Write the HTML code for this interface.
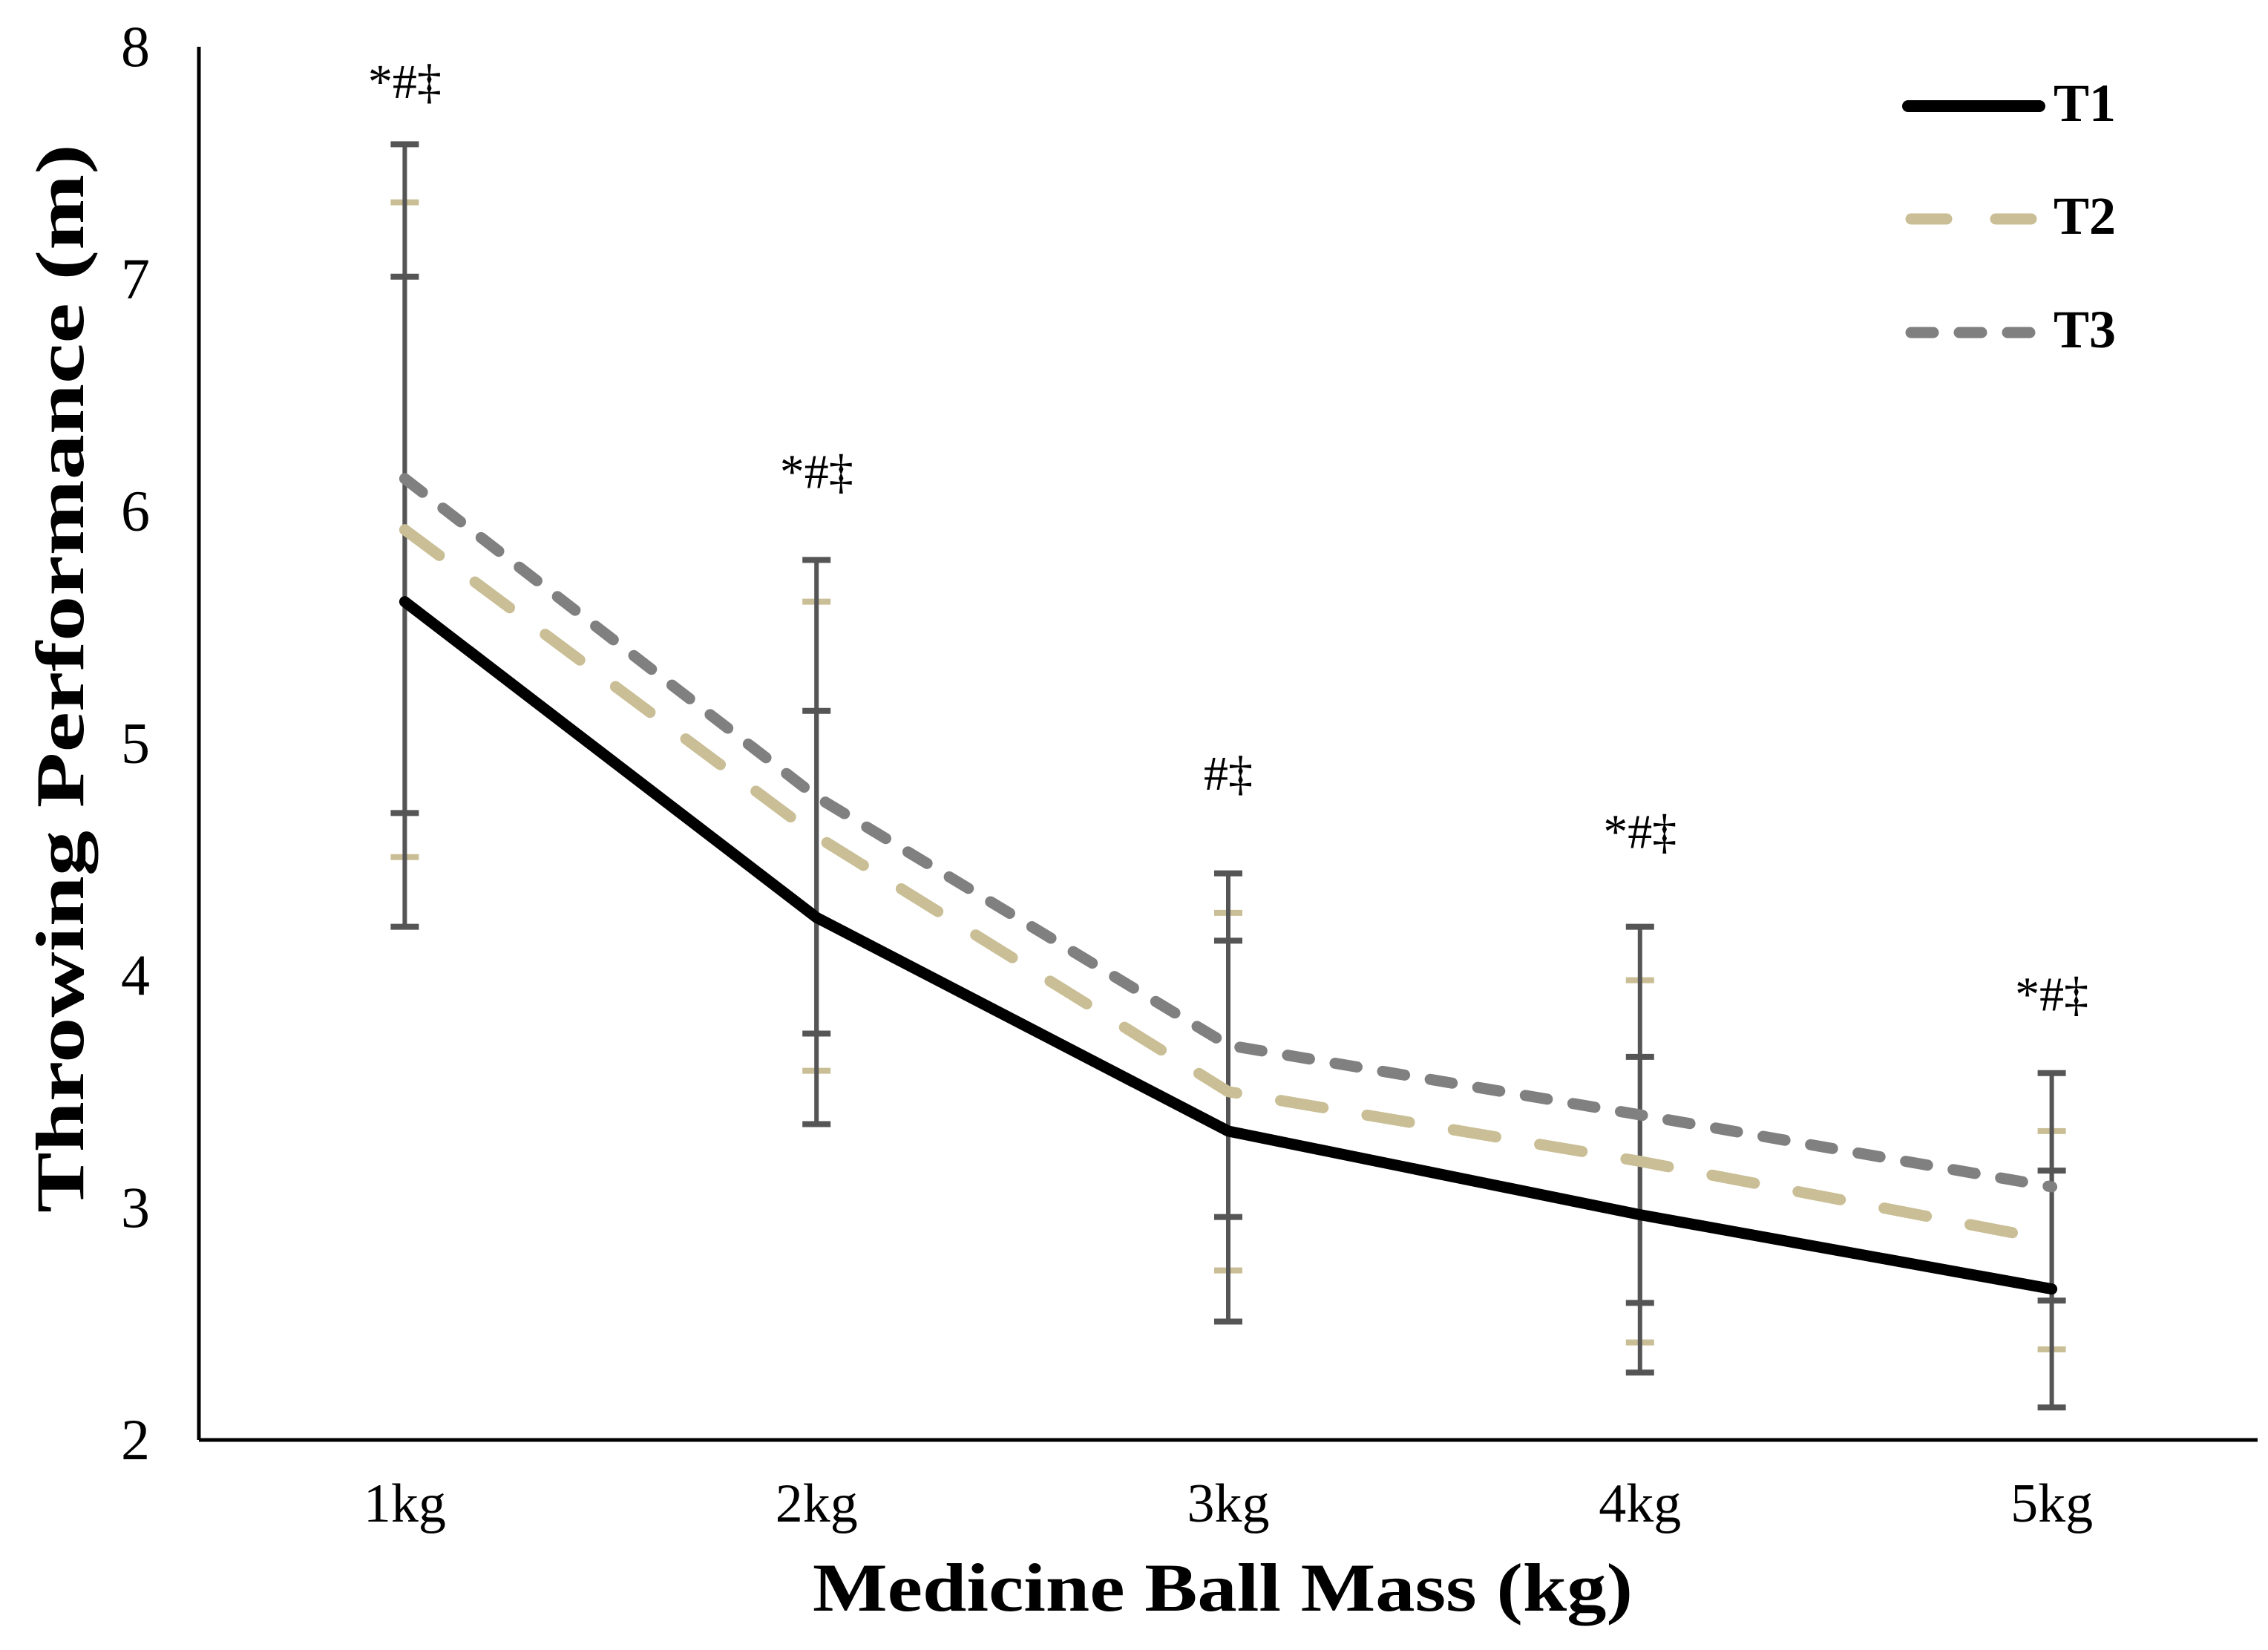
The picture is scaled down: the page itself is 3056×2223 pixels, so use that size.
<!DOCTYPE html>
<html><head><meta charset="utf-8"><style>
html,body{margin:0;padding:0;background:#fff;}
svg{display:block;font-family:"Liberation Serif",serif;}
</style></head><body>
<svg id="chart" width="3056" height="2223" viewBox="0 0 3056 2223" xmlns="http://www.w3.org/2000/svg">
<g id="axes"></g><g id="errs"></g><g id="lines"></g><g id="annot"></g>
<g id="legend">
 <line x1="2571" y1="143" x2="2748" y2="143" stroke="#000" stroke-width="16" stroke-linecap="round"/>
 <text x="2767" y="163" font-size="72" font-weight="bold">T1</text>
 <line x1="2575" y1="295" x2="2745" y2="295" stroke="#C9BE95" stroke-width="15" stroke-linecap="round" stroke-dasharray="48 66"/>
 <text x="2767" y="315" font-size="72" font-weight="bold">T2</text>
 <line x1="2575" y1="448" x2="2745" y2="448" stroke="#808080" stroke-width="15" stroke-linecap="round" stroke-dasharray="30 35"/>
 <text x="2767" y="468" font-size="72" font-weight="bold">T3</text>
</g>
<text x="1095" y="2170" font-size="92" font-weight="bold" textLength="1105" lengthAdjust="spacingAndGlyphs">Medicine Ball Mass (kg)</text>
<text x="-1634" y="112" transform="rotate(-90)" font-size="92" font-weight="bold" textLength="1440" lengthAdjust="spacingAndGlyphs">Throwing Performance (m)</text>
</svg>
<script>
const categories=["1kg","2kg","3kg","4kg","5kg"];
const t1Mean=[5.61,4.25,3.33,2.97,2.65];
const t2Mean=[5.92,4.60,3.50,3.20,2.86];
const t3Mean=[6.14,4.77,3.70,3.40,3.09];
const t1SD=[1.40,0.89,0.82,0.68,0.51];
const t2SD=[1.41,1.01,0.77,0.78,0.47];
const t3SD=[1.44,1.02,0.74,0.81,0.49];
const yTicks=[2,3,4,5,6,7,8];
const annotations=["*#‡","*#‡","#‡","*#‡","*#‡"];
const annotValues=[7.78,6.10,4.80,4.55,3.85];

const NS="http://www.w3.org/2000/svg";
const X0=268,X1=3042,Y0=1940,Y1=63,YMIN=2,YMAX=8;
const band=(X1-X0)/categories.length;
const xs=i=>X0+band*(i+0.5);
const ys=v=>Y0-(v-YMIN)/(YMAX-YMIN)*(Y0-Y1);
function mk(tag,attrs,parent){const e=document.createElementNS(NS,tag);for(const k in attrs)e.setAttribute(k,attrs[k]);parent.appendChild(e);return e;}
const axes=document.getElementById('axes');
let a=mk('line',{x1:X0,y1:Y1,x2:X0,y2:Y0,stroke:'#000','stroke-width':5},axes);


a=mk('line',{x1:X0,y1:Y0,x2:X1,y2:Y0,stroke:'#000','stroke-width':5},axes);


yTicks.forEach(t=>{const e=mk('text',{x:202,y:ys(t)+26,'font-size':78,'text-anchor':'end'},axes);e.textContent=t;

});
categories.forEach((c,i)=>{const e=mk('text',{x:xs(i),y:2050,'font-size':74,'text-anchor':'middle'},axes);e.textContent=c;

});
const errs=document.getElementById('errs');
function errBars(means,sds,color,w,name){means.forEach((m,i)=>{const x=xs(i);
const g=mk('g',{},errs);


mk('line',{x1:x,y1:ys(m+sds[i]),x2:x,y2:ys(m-sds[i]),stroke:color,'stroke-width':w},g);
[m+sds[i],m-sds[i]].forEach(v=>mk('line',{x1:x-19,y1:ys(v),x2:x+19,y2:ys(v),stroke:color,'stroke-width':8},g));});}
errBars(t2Mean,t2SD,'#C9BE95','5','error-bar-t2');
errBars(t1Mean,t1SD,'#555','6','error-bar-t1');
errBars(t3Mean,t3SD,'#555','6','error-bar-t3');
const lines=document.getElementById('lines');
function series(means,color,w,dash,name){const p=mk('polyline',{points:means.map((m,i)=>xs(i)+','+ys(m)).join(' '),fill:'none',stroke:color,'stroke-width':w,'stroke-linejoin':'round','stroke-linecap':'round'},lines);
if(dash)p.setAttribute('stroke-dasharray',dash);

}
series(t3Mean,'#808080',15,'30 35','line-t3');
series(t2Mean,'#C9BE95',15,'58 60','line-t2');
series(t1Mean,'#000',15,null,'line-t1');
const an=document.getElementById('annot');
annotations.forEach((s,i)=>{const e=mk('text',{x:xs(i),y:ys(annotValues[i]),'font-size':66,'text-anchor':'middle'},an);e.textContent=s;

});
</script>
</body></html>
